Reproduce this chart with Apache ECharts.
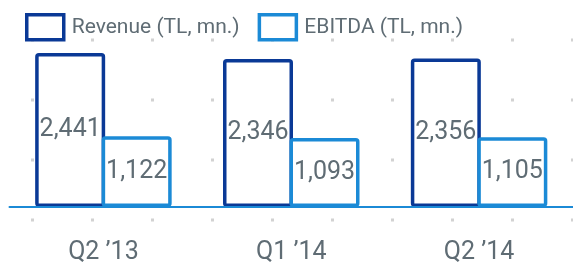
<!DOCTYPE html>
<html style="height: 100%">
<head>
    <meta charset="utf-8">
    <script src="https://cdn.jsdelivr.net/npm/echarts@6/dist/echarts.min.js"></script>
</head>
<body style="height: 100%; margin: 0; background: #fff">
    <div id="chart" style="width: 573px; height: 265px"></div>
    <script type="text/javascript">
        var quarters = ['Q2 \u201913', 'Q1 \u201914', 'Q2 \u201914'];
        var revenue = [2441, 2346, 2356];
        var ebitda = [1122, 1093, 1105];
        var seriesNames = ['Revenue (TL, mn.)', 'EBITDA (TL, mn.)'];

        var font = 'Roboto, sans-serif';
        var grey = '#5f6c74';

        function fmt(p) {
            return p.value.toLocaleString('en-US');
        }

        var myChart = echarts.init(document.getElementById('chart'));
        myChart.setOption({
            animation: false,
            legend: {
                data: seriesNames,
                padding: 0,
                left: 25,
                top: 13,
                itemWidth: 37,
                itemHeight: 25,
                itemGap: 18,
                icon: 'rect',
                itemStyle: { borderWidth: 3.5 },
                textStyle: { fontFamily: font, fontSize: 21, color: grey, padding: [0, 0, 0, 3] }
            },
            grid: [
                { left: 9.5, width: 567, top: 17.8, bottom: 57 },
                { left: 32, width: 540, top: 38.5, height: 183 }
            ],
            xAxis: [{
                type: 'category',
                data: quarters,
                z: 3,
                axisLine: { lineStyle: { color: '#1b8ad6', width: 2 } },
                axisTick: { show: false },
                axisLabel: { fontFamily: font, fontSize: 25, color: grey, margin: 33 }
            }, {
                type: 'value',
                gridIndex: 1,
                min: 0,
                max: 540,
                interval: 60,
                z: 0,
                axisLine: { show: false },
                axisTick: { show: false },
                axisLabel: { show: false },
                splitLine: { lineStyle: { color: '#d2d2d2', width: 3, type: [3, 57] } }
            }],
            yAxis: [{
                type: 'value',
                min: 0,
                max: 3000,
                show: false
            }, {
                type: 'value',
                gridIndex: 1,
                show: false
            }],
            series: [{
                name: seriesNames[0],
                type: 'bar',
                data: revenue,
                barWidth: 70,
                barGap: '-5%',
                itemStyle: { color: '#fff', borderColor: '#0a3996', borderWidth: 3.5, borderRadius: 2 },
                label: { show: true, position: 'inside', formatter: fmt, fontFamily: font, fontSize: 25, color: grey }
            }, {
                name: seriesNames[1],
                type: 'bar',
                data: ebitda,
                barWidth: 70,
                itemStyle: { color: '#fff', borderColor: '#1b8ad6', borderWidth: 3.5, borderRadius: 2 },
                label: { show: true, position: 'inside', formatter: fmt, fontFamily: font, fontSize: 25, color: grey }
            }]
        });
    </script>
</body>
</html>
